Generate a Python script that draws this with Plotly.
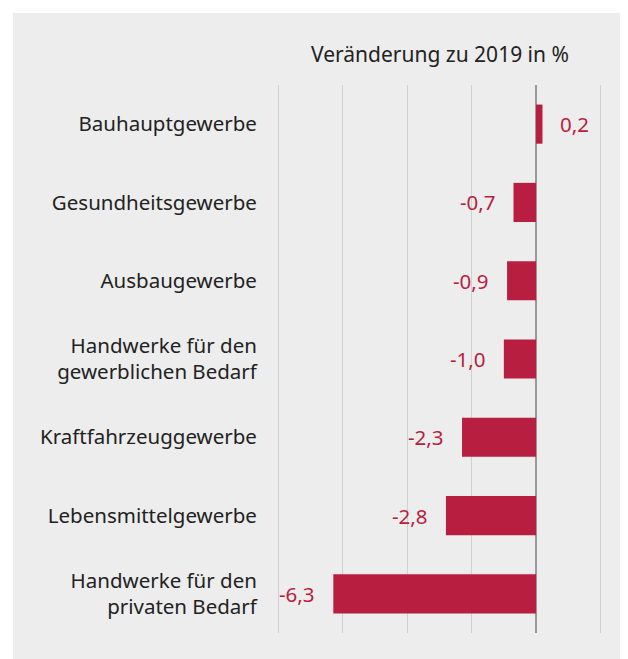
import plotly.graph_objects as go

categories = [
    "Bauhauptgewerbe",
    "Gesundheitsgewerbe",
    "Ausbaugewerbe",
    "Handwerke für den<br>gewerblichen Bedarf",
    "Kraftfahrzeuggewerbe",
    "Lebensmittelgewerbe",
    "Handwerke für den<br>privaten Bedarf",
]
values = [0.2, -0.7, -0.9, -1.0, -2.3, -2.8, -6.3]
value_labels = ["0,2", "-0,7", "-0,9", "-1,0", "-2,3", "-2,8", "-6,3"]
title_text = "Veränderung zu 2019 in %"

RED = "#b81e40"
TEXT = "#222222"
FONT = "Noto Sans"

fig = go.Figure()
fig.add_trace(go.Bar(
    x=values,
    y=categories,
    orientation="h",
    width=0.5,
    marker=dict(color=RED, line=dict(width=0)),
    hoverinfo="skip",
))

annotations = []
for c, v, t in zip(categories, values, value_labels):
    annotations.append(dict(
        x=v, y=c, xref="x", yref="y", text=t, showarrow=False,
        xanchor="left" if v >= 0 else "right",
        xshift=16 if v >= 0 else -16,
        font=dict(family=FONT, size=20.5, color=RED),
    ))
annotations.append(dict(
    x=0.5, y=1.0566, xref="paper", yref="paper", text=title_text,
    showarrow=False, xanchor="center", yanchor="middle",
    font=dict(family=FONT, size=21, color=TEXT),
))

# page body has an 8px margin; the figure overflows the window at right/bottom
W, H = 640, 680
ml, mt = 269, 77
pw, ph = 325, 548
mr, mb = W - ml - pw, H - mt - ph

def px_x(p):
    return (p - ml) / pw

def px_y(p):
    return (mt + ph - p) / ph

fig.update_layout(
    width=W, height=H,
    margin=dict(l=ml, r=mr, t=mt, b=mb, pad=0),
    paper_bgcolor="white",
    plot_bgcolor="rgba(0,0,0,0)",
    showlegend=False,
    font=dict(family=FONT, size=20.5, color=TEXT),
    annotations=annotations,
    shapes=[dict(
        type="rect", xref="paper", yref="paper", layer="below",
        x0=px_x(5), x1=px_x(700), y0=px_y(5), y1=px_y(720),
        fillcolor="#ededed", line=dict(width=0),
    )],
    xaxis=dict(
        range=[-8.05, 2.05], dtick=2, tick0=0,
        showgrid=True, gridcolor="#d0d0d0", gridwidth=1,
        zeroline=True, zerolinecolor="#9a9a9a", zerolinewidth=2,
        showticklabels=False, ticks="", showline=False, fixedrange=True,
    ),
    yaxis=dict(
        categoryorder="array", categoryarray=categories,
        range=[6.5, -0.5],
        showgrid=False, zeroline=False, showline=False,
        ticks="outside", ticklen=15, tickcolor="rgba(0,0,0,0)",
        tickfont=dict(family=FONT, size=20.5, color=TEXT),
        fixedrange=True,
    ),
)

fig.write_html("out.html")
